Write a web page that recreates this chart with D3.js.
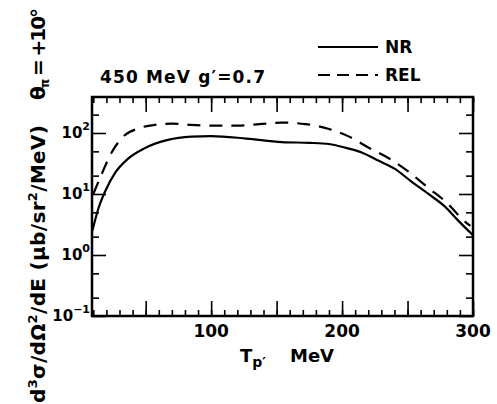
<!DOCTYPE html>
<html>
<head>
<meta charset="utf-8">
<script src="https://cdn.jsdelivr.net/npm/d3@7"></script>
<style>
  body { margin: 0; background: #fff; }
  text { font-family: "DejaVu Sans", sans-serif; font-weight: bold; fill: #000; }
</style>
</head>
<body>
<script>
// values (T_p' in MeV, cross section in ub/sr^2/MeV)
var nrE = [9.3, 14, 19, 26.5, 36.6, 49, 67, 85, 100, 127, 154, 175, 190, 203, 215, 228, 240, 253, 266, 278.6, 288, 300];
var nrV = [2.5, 5.9, 11, 22, 38, 56, 77, 87, 89, 81, 71, 69, 66, 57, 48, 35, 26, 16, 10, 6.2, 3.8, 2.1];

var relE = [10, 15, 24, 34, 44, 57, 70, 85, 100, 120, 137, 154, 172, 190, 205, 220, 238, 251, 266, 279, 294, 298];
var relV = [10, 18, 48, 92, 118, 136, 142, 136, 132, 132, 140, 148, 140, 116, 88, 58, 36, 23, 12.5, 7.5, 3.5, 3.0];

var xTickLabels = [100, 200, 300];
var yDecades = [-1, 0, 1, 2];

var margin = {left: 92, top: 97, bottom: 88, right: 24},
    width = 497 - margin.left - margin.right,
    height = 404 - margin.top - margin.bottom;

var root = d3.select("body").append("svg")
    .attr("width", 497)
    .attr("height", 404);

var svg = root.append("g")
    .attr("transform", "translate(" + margin.left + "," + margin.top + ")");

var xScale = d3.scaleLinear().domain([9, 300]).range([0, width]);
var yScale = d3.scaleLog().domain([0.1, Math.pow(10, 2.59)]).range([height, 0]);

// x ticks every 10, long every 50
var xMinor = d3.range(10, 301, 10);
var xMajor = d3.range(50, 301, 50);
// y ticks: decades long, 2 and 5 short
var yMajor = yDecades.map(d => Math.pow(10, d));
var yMinor = [];
yDecades.forEach(function(d) {
    [2, 5].forEach(function(m) {
        var v = m * Math.pow(10, d);
        if (v < yScale.domain()[1]) yMinor.push(v);
    });
});

function tickAxis(axis, vals, size) {
    return axis.tickValues(vals).tickSize(size).tickFormat("");
}

var axes = [
    [d3.axisBottom(xScale), xMinor, -6, "translate(0," + height + ")"],
    [d3.axisBottom(xScale), xMajor, -15, "translate(0," + height + ")"],
    [d3.axisTop(xScale), xMinor, -6, null],
    [d3.axisTop(xScale), xMajor, -15, null],
    [d3.axisLeft(yScale), yMinor, -7, null],
    [d3.axisLeft(yScale), yMajor, -14, null],
    [d3.axisRight(yScale), yMinor, -7, "translate(" + width + ",0)"],
    [d3.axisRight(yScale), yMajor, -14, "translate(" + width + ",0)"]
];
axes.forEach(function(a) {
    var g = svg.append("g").call(tickAxis(a[0], a[1], a[2]));
    if (a[3]) g.attr("transform", a[3]);
    g.select(".domain").remove();
    g.selectAll("line").attr("stroke", "#000").attr("stroke-width", 1.6);
});

// frame
svg.append("rect")
    .attr("width", width)
    .attr("height", height)
    .attr("fill", "none")
    .attr("stroke", "#000")
    .attr("stroke-width", 2.5);

// x tick labels
svg.selectAll(".xlab")
    .data(xTickLabels)
    .enter().append("text")
        .attr("class", "xlab")
        .attr("x", d => xScale(d))
        .attr("y", height + 21)
        .attr("text-anchor", "middle")
        .attr("font-size", 17)
        .text(d => d);

// y tick labels 10^n
var ylab = svg.selectAll(".ylab")
    .data(yDecades)
    .enter().append("text")
        .attr("class", "ylab")
        .attr("x", -2)
        .attr("y", d => yScale(Math.pow(10, d)) + 5)
        .attr("text-anchor", "end")
        .attr("font-size", 15);
ylab.append("tspan").text("10");
ylab.append("tspan")
    .attr("dy", -8)
    .attr("font-size", 11)
    .text(d => d < 0 ? "\u2212" + Math.abs(d) : d);

// curves
svg.append("clipPath").attr("id", "clip")
    .append("rect").attr("width", width).attr("height", height);

var line = d3.line()
    .x(d => xScale(d[0]))
    .y(d => yScale(d[1]))
    .curve(d3.curveMonotoneX);

var nrData = d3.zip(nrE, nrV);
var relData = d3.zip(relE, relV);

svg.append("path")
    .attr("d", line(nrData))
    .attr("clip-path", "url(#clip)")
    .attr("fill", "none")
    .attr("stroke", "#000")
    .attr("stroke-width", 2.2);

svg.append("path")
    .attr("d", line(relData))
    .attr("clip-path", "url(#clip)")
    .attr("fill", "none")
    .attr("stroke", "#000")
    .attr("stroke-width", 2.2)
    .attr("stroke-dasharray", "13,9");

// title + legend
root.append("text")
    .attr("x", 100)
    .attr("y", 83)
    .attr("font-size", 17)
    .attr("textLength", 165)
    .attr("lengthAdjust", "spacing")
    .text("450 MeV  g\u2032=0.7");

var legend = [["NR", null, 47], ["REL", "12,7", 75]];
legend.forEach(function(l) {
    root.append("line")
        .attr("x1", 318).attr("x2", 378)
        .attr("y1", l[2]).attr("y2", l[2])
        .attr("stroke", "#000")
        .attr("stroke-width", 2)
        .attr("stroke-dasharray", l[1]);
    root.append("text")
        .attr("x", 385)
        .attr("y", l[2] + 6)
        .attr("font-size", 17)
        .text(l[0]);
});

// x axis title
var xt = root.append("text")
    .attr("x", 240)
    .attr("y", 362)
    .attr("font-size", 18);
xt.append("tspan").text("T");
xt.append("tspan").attr("dy", 5).attr("font-size", 14).text("p\u2032");
xt.append("tspan").attr("x", 290).attr("dy", -5).text("MeV");

// y axis title
var yt = root.append("text")
    .attr("transform", "translate(45,264) rotate(-90)")
    .attr("text-anchor", "middle")
    .attr("font-size", 20)
    .attr("textLength", 278)
    .attr("lengthAdjust", "spacing");
yt.append("tspan").text("d");
yt.append("tspan").attr("dy", -8).attr("font-size", 13).text("3");
yt.append("tspan").attr("dy", 8).text("\u03c3/d\u03a9");
yt.append("tspan").attr("dy", -8).attr("font-size", 13).text("2");
yt.append("tspan").attr("dy", 8).text("/dE  (\u03bcb/sr");
yt.append("tspan").attr("dy", -8).attr("font-size", 13).text("2");
yt.append("tspan").attr("dy", 8).text("/MeV)");

// angle label
var th = root.append("text")
    .attr("transform", "translate(45,100) rotate(-90)")
    .attr("font-size", 20)
    .attr("textLength", 92)
    .attr("lengthAdjust", "spacing");
th.append("tspan").text("\u03b8");
th.append("tspan").attr("dy", 4).attr("font-size", 12).text("\u03c0");
th.append("tspan").attr("dy", -4).text(" = +10\u00b0");
</script>
</body>
</html>
